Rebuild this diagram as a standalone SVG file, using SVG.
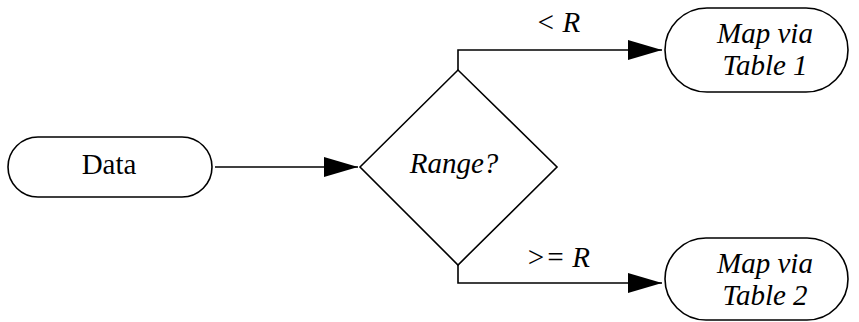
<svg xmlns="http://www.w3.org/2000/svg" width="859" height="322" viewBox="0 0 859 322">
<defs>
<marker id="arr" markerWidth="34" markerHeight="20" refX="34" refY="10" orient="auto" markerUnits="userSpaceOnUse">
<path d="M0,0 L34,10 L0,20 Z" fill="#000"/>
</marker>
<style>
.s{fill:#fff;stroke:#000;stroke-width:1.6}
.c{fill:none;stroke:#000;stroke-width:1.6}
text{font-family:"Liberation Serif","Times New Roman",Times,"DejaVu Serif",serif;font-size:29px;text-anchor:middle;fill:#000}
.i{font-style:italic}
</style>
</defs>
<rect width="859" height="322" fill="#fff"/>
<g id="connectors">
<path class="c" d="M215,167 H358" marker-end="url(#arr)"/>
<path class="c" d="M458,70 V50 H662" marker-end="url(#arr)"/>
<path class="c" d="M458,265 V283 H662" marker-end="url(#arr)"/>
<text class="i" x="558" y="32">&lt; R</text>
<text class="i" x="558" y="267">&gt;= R</text>
</g>
<g id="data">
<rect class="s" x="8" y="137" width="204" height="60" rx="30"/>
<text x="109" y="174">Data</text>
</g>
<g id="range">
<path class="s" d="M360,167 L458,70 L557,167 L458,265 Z"/>
<text class="i" x="454" y="173">Range?</text>
</g>
<g id="table1">
<rect class="s" x="665" y="8" width="183" height="84" rx="42"/>
<text class="i" x="765" y="43">Map via</text>
<text class="i" x="765" y="75">Table 1</text>
</g>
<g id="table2">
<rect class="s" x="665" y="238" width="183" height="82" rx="41"/>
<text class="i" x="765" y="273">Map via</text>
<text class="i" x="765" y="305">Table 2</text>
</g>
</svg>
